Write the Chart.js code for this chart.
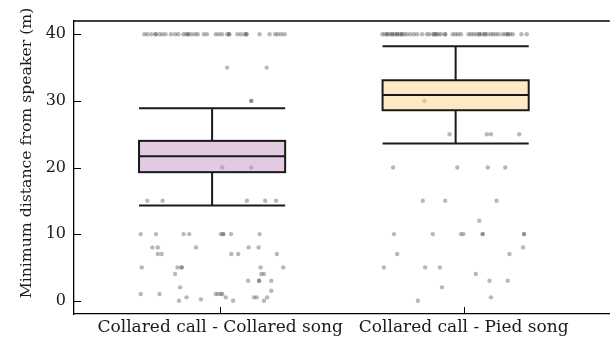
<!DOCTYPE html>
<html>
<head>
<meta charset="utf-8">
<script src="https://cdn.jsdelivr.net/npm/chart.js@4/dist/chart.umd.min.js"></script>
<style>
  html, body { margin: 0; padding: 0; background: #ffffff; }
  #wrap { width: 612px; height: 341px; position: relative; }
</style>
</head>
<body>
<div id="wrap"><canvas id="chart"></canvas></div>
<script>
// Playback treatments (category axis labels)
const categories = ['Collared call - Collared song', 'Collared call - Pied song'];

// Box-plot summaries per treatment (m)
const whiskerLow  = [14.3, 23.6];
const boxQ1       = [19.3, 28.6];
const boxMedian   = [21.7, 30.9];
const boxQ3       = [24.0, 33.1];
const whiskerHigh = [28.9, 38.2];

// Y-axis tick values
const yTickValues = [0, 10, 20, 30, 40];

// Individual observations: horizontal jitter (fraction of category width) and distance (m)
const collaredSongJitter = [
  -0.311, -0.299, -0.283, -0.265, -0.265, -0.249, -0.237, -0.224, -0.202, -0.185,
  -0.172, -0.151, -0.140, -0.131, -0.131, -0.117, -0.103, -0.092, -0.067, -0.054,
  -0.018, -0.005, 0.008, 0.029, 0.037, 0.037, 0.071, 0.085, 0.101, 0.108,
  0.108, 0.162, 0.203, 0.226, 0.237, 0.251, 0.265,
  0.029, 0.191,
  0.128, 0.128,
  0.009, 0.128,
  -0.299, -0.236, 0.110, 0.185, 0.230,
  -0.326, -0.263, -0.150, -0.127, 0.003, 0.013, 0.013, 0.045, 0.162,
  -0.278, -0.256, -0.099, 0.117, 0.158,
  -0.256, -0.240, 0.046, 0.074, 0.233,
  -0.322, -0.175, -0.158, -0.158, 0.166, 0.259,
  -0.185, 0.169, 0.180,
  0.115, 0.160, 0.160, 0.210,
  -0.164, 0.210,
  -0.326, -0.249, -0.018, -0.008, 0.003, 0.009,
  -0.138, 0.023, 0.139, 0.150, 0.193,
  -0.079,
  -0.169, 0.053, 0.180
];
const collaredSongDist = [
  40, 40, 40, 40, 40, 40, 40, 40, 40, 40,
  40, 40, 40, 40, 40, 40, 40, 40, 40, 40,
  40, 40, 40, 40, 40, 40, 40, 40, 40, 40,
  40, 40, 40, 40, 40, 40, 40,
  35, 35,
  30, 30,
  20, 20,
  15, 15, 15, 15, 15,
  10, 10, 10, 10, 10, 10, 10, 10, 10,
  8, 8, 8, 8, 8,
  7, 7, 7, 7, 7,
  5, 5, 5, 5, 5, 5,
  4, 4, 4,
  3, 3, 3, 3,
  2, 1.5,
  1, 1, 1, 1, 1, 1,
  0.5, 0.5, 0.5, 0.5, 0.5,
  0.2,
  0, 0, 0
];

const piedSongJitter = [
  -0.334, -0.324, -0.314, -0.314, -0.303, -0.293, -0.293, -0.283, -0.273, -0.273,
  -0.263, -0.254, -0.254, -0.243, -0.232, -0.218, -0.204, -0.191, -0.171, -0.151,
  -0.140, -0.123, -0.123, -0.113, -0.113, -0.102, -0.093, -0.076, -0.076, -0.045,
  -0.034, -0.023, -0.011, 0.020, 0.030, 0.041, 0.052, 0.064, 0.064, 0.075,
  0.087, 0.087, 0.098, 0.112, 0.121, 0.132, 0.143, 0.160, 0.171, 0.181,
  0.181, 0.191, 0.202, 0.237, 0.259,
  -0.161,
  -0.058, 0.095, 0.112, 0.228,
  -0.290, -0.026, 0.099, 0.171,
  -0.168, -0.076, 0.135,
  0.064,
  -0.286, -0.127, -0.011, -0.001, 0.078, 0.078, 0.248, 0.248,
  0.244,
  -0.273, 0.188,
  -0.328, -0.158, -0.098,
  0.050,
  0.106, 0.181,
  -0.089,
  0.112,
  -0.188
];
const piedSongDist = [
  40, 40, 40, 40, 40, 40, 40, 40, 40, 40,
  40, 40, 40, 40, 40, 40, 40, 40, 40, 40,
  40, 40, 40, 40, 40, 40, 40, 40, 40, 40,
  40, 40, 40, 40, 40, 40, 40, 40, 40, 40,
  40, 40, 40, 40, 40, 40, 40, 40, 40, 40,
  40, 40, 40, 40, 40,
  30,
  25, 25, 25, 25,
  20, 20, 20, 20,
  15, 15, 15,
  12,
  10, 10, 10, 10, 10, 10, 10, 10,
  8,
  7, 7,
  5, 5, 5,
  4,
  3, 3,
  2,
  0.5,
  0
];

const FONT_FAMILY = '"DejaVu Serif", "Liberation Serif", serif';
const INK = '#1a1a1a';
const boxFills = ['rgba(200, 150, 200, 0.5)', 'rgba(252, 214, 140, 0.5)'];
const BOX_HALF = 0.3;      // half-width of each box, in category units
const BOX_SHIFT = -0.033;  // boxes sit slightly left of the category tick

function toPoints(center, jitter, dist) {
  return dist.map((d, i) => ({ x: center + jitter[i], y: d }));
}

// Boxes, whiskers, inward tick marks, top frame line and the rotated y-axis title
const boxPlotPlugin = {
  id: 'boxPlot',
  afterDatasetsDraw(chart) {
    const { ctx, chartArea, scales: { x, y } } = chart;
    ctx.save();
    categories.forEach((cat, i) => {
      const c = i + 1 + BOX_SHIFT;
      const xl = x.getPixelForValue(c - BOX_HALF);
      const xr = x.getPixelForValue(c + BOX_HALF);
      const xc = x.getPixelForValue(c);
      const yq1 = y.getPixelForValue(boxQ1[i]);
      const yq3 = y.getPixelForValue(boxQ3[i]);
      const ymed = y.getPixelForValue(boxMedian[i]);
      const ylo = y.getPixelForValue(whiskerLow[i]);
      const yhi = y.getPixelForValue(whiskerHigh[i]);

      ctx.lineWidth = 2;
      ctx.strokeStyle = INK;
      ctx.lineCap = 'butt';
      // whisker stems
      ctx.beginPath();
      ctx.moveTo(xc, yq3); ctx.lineTo(xc, yhi);
      ctx.moveTo(xc, yq1); ctx.lineTo(xc, ylo);
      // whisker caps
      ctx.moveTo(xl, yhi); ctx.lineTo(xr, yhi);
      ctx.moveTo(xl, ylo); ctx.lineTo(xr, ylo);
      ctx.stroke();

      // box
      ctx.fillStyle = boxFills[i];
      ctx.fillRect(xl, yq3, xr - xl, yq1 - yq3);
      ctx.strokeRect(xl, yq3, xr - xl, yq1 - yq3);
      // median
      ctx.beginPath();
      ctx.moveTo(xl, ymed); ctx.lineTo(xr, ymed);
      ctx.stroke();
    });

    // top frame line
    ctx.lineWidth = 1.3;
    ctx.strokeStyle = '#000';
    ctx.beginPath();
    ctx.moveTo(chartArea.left, chartArea.top);
    ctx.lineTo(chartArea.right, chartArea.top);
    ctx.stroke();

    // inward tick marks
    ctx.lineWidth = 1;
    ctx.beginPath();
    yTickValues.forEach(v => {
      const py = Math.round(y.getPixelForValue(v)) + 0.5;
      ctx.moveTo(chartArea.left, py);
      ctx.lineTo(chartArea.left + 7, py);
    });
    categories.forEach((cat, i) => {
      const px = Math.round(x.getPixelForValue(i + 1)) + 0.5;
      ctx.moveTo(px, chartArea.bottom);
      ctx.lineTo(px, chartArea.bottom - 7);
    });
    ctx.stroke();

    // y-axis title
    ctx.fillStyle = '#1a1a1a';
    ctx.font = '15.7px ' + FONT_FAMILY;
    ctx.textAlign = 'center';
    ctx.textBaseline = 'middle';
    ctx.translate(27, 153);
    ctx.rotate(-Math.PI / 2);
    ctx.fillText('Minimum distance from speaker (m)', 0, 0);
    ctx.restore();
  }
};

const pointStyle = {
  pointRadius: 2.2,
  pointHoverRadius: 2.2,
  pointBorderWidth: 0,
  pointBackgroundColor: 'rgba(85, 85, 85, 0.42)',
  pointBorderColor: 'rgba(0,0,0,0)'
};

new Chart(document.getElementById('chart'), {
  type: 'scatter',
  data: {
    datasets: [
      Object.assign({ label: categories[0], data: toPoints(1, collaredSongJitter, collaredSongDist) }, pointStyle),
      Object.assign({ label: categories[1], data: toPoints(2, piedSongJitter, piedSongDist) }, pointStyle)
    ]
  },
  options: {
    responsive: true,
    maintainAspectRatio: false,
    animation: false,
    layout: { padding: { top: 21, right: 0, bottom: 0, left: 0 } },
    plugins: {
      legend: { display: false },
      tooltip: { enabled: false }
    },
    scales: {
      x: {
        type: 'linear',
        min: 0.4,
        max: 2.6,
        afterBuildTicks: (scale) => { scale.ticks = categories.map((c, i) => ({ value: i + 1 })); },
        afterFit: (scale) => { scale.height = 27; },
        ticks: {
          callback: (v) => categories[v - 1],
          color: '#1a1a1a',
          font: { family: FONT_FAMILY, size: 17 },
          padding: 3,
          maxRotation: 0,
          autoSkip: false
        },
        grid: { display: false, drawTicks: false },
        border: { display: true, color: '#000', width: 1.3 }
      },
      y: {
        type: 'linear',
        min: -2,
        max: 42,
        afterBuildTicks: (scale) => { scale.ticks = yTickValues.map(v => ({ value: v })); },
        afterFit: (scale) => { scale.width = 74; },
        ticks: {
          color: '#1a1a1a',
          font: { family: FONT_FAMILY, size: 16 },
          padding: 8
        },
        grid: { display: false, drawTicks: false },
        border: { display: true, color: '#000', width: 1.3 }
      }
    }
  },
  plugins: [boxPlotPlugin]
});
</script>
</body>
</html>
